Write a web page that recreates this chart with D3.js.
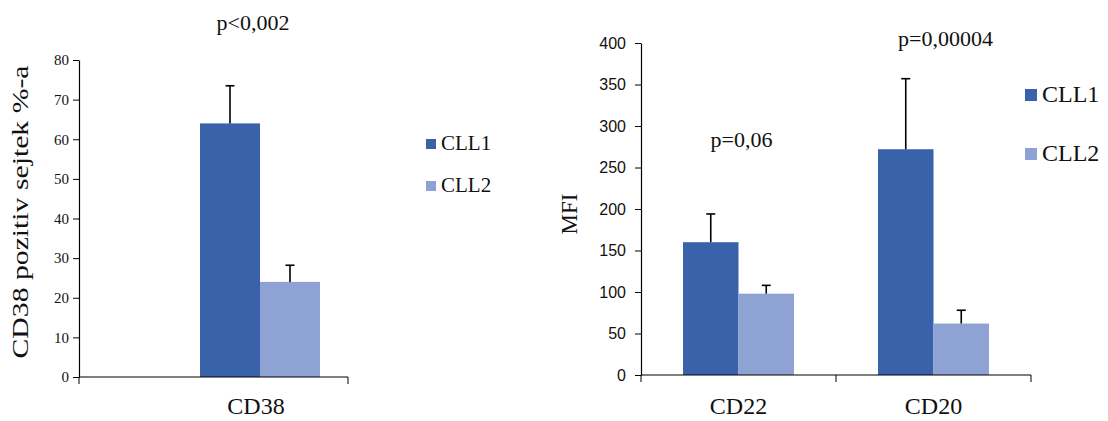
<!DOCTYPE html>
<html lang="hu">
<head>
<meta charset="UTF-8">
<title>CD38 / CD22 / CD20</title>
<script src="https://d3js.org/d3.v7.min.js"></script>
<style>
  body { margin: 0; background: #fff; }
  svg text { font-family: "Liberation Serif", "Times New Roman", serif; fill: #111; }
</style>
</head>
<body>
<svg id="chart" width="1108" height="421"></svg>
<script>
// Data
const series = ["CLL1", "CLL2"];
const colors = ["#3a62ab", "#8ea3d3"];

const leftCategories = ["CD38"];
const leftMeans = [[64], [24]];      // [series][category]
const leftErrors = [[9.5], [4.2]];
const leftTicks = [0, 10, 20, 30, 40, 50, 60, 70, 80];
const leftPvalues = ["p<0,002"];

const rightCategories = ["CD22", "CD20"];
const rightMeans = [[160, 272], [98, 62]];
const rightErrors = [[34, 85], [10, 16]];
const rightTicks = [0, 50, 100, 150, 200, 250, 300, 350, 400];
const rightPvalues = ["p=0,06", "p=0,00004"];

const svg = d3.select("#chart");

function drawPanel(o) {
  const g = svg.append("g");
  // band scale may run past the drawn axis line (left panel: bars sit right of centre)
  const x = d3.scaleBand().domain(o.categories).range([o.x0, o.bandEnd || o.x1]);
  const y = d3.scaleLinear().domain([0, o.max]).range([o.y0, o.y1]);

  // bars
  o.categories.forEach((cat, ci) => {
    const c = x(cat) + x.bandwidth() / 2;
    const xs = d3.scaleBand().domain(series).range([c - o.group / 2, c + o.group / 2]);
    series.forEach((s, si) => {
      const v = o.means[si][ci], e = o.errors[si][ci];
      const bx = xs(s), bw = xs.bandwidth();
      g.append("rect")
        .attr("x", bx).attr("y", y(v))
        .attr("width", bw).attr("height", y(0) - y(v))
        .attr("fill", colors[si]);
      const mx = bx + bw / 2;
      g.append("line")
        .attr("x1", mx).attr("x2", mx)
        .attr("y1", y(v)).attr("y2", y(v + e))
        .attr("stroke", "#000").attr("stroke-width", 1.6);
      g.append("line")
        .attr("x1", mx - 4.5).attr("x2", mx + 4.5)
        .attr("y1", y(v + e)).attr("y2", y(v + e))
        .attr("stroke", "#000").attr("stroke-width", 1.6);
    });
  });

  // y axis
  g.append("g")
    .attr("transform", `translate(${o.x0},0)`)
    .call(d3.axisLeft(y).tickValues(o.ticks).tickSize(6).tickSizeOuter(0))
    .call(a => a.select(".domain").attr("stroke", "#000").attr("stroke-width", 1.2))
    .call(a => a.selectAll(".tick line").attr("stroke", "#000"))
    .call(a => a.selectAll(".tick text")
      .attr("x", o.tickGap)
      .style("font-family", o.tickFont)
      .style("font-size", o.tickSize + "px")
      .attr("fill", "#222"));

  // x axis (line + boundary ticks pointing down)
  g.append("line")
    .attr("x1", o.x0).attr("x2", o.x1)
    .attr("y1", y(0)).attr("y2", y(0))
    .attr("stroke", "#000").attr("stroke-width", 1.2);
  const bounds = o.categories.map(c => x(c)).concat([o.x1]);
  g.selectAll(".xb").data(bounds).join("line")
    .attr("x1", d => d).attr("x2", d => d)
    .attr("y1", y(0)).attr("y2", y(0) + 7)
    .attr("stroke", "#000");
  g.selectAll(".xl").data(o.categories).join("text")
    .attr("x", d => x(d) + x.bandwidth() / 2 + o.catDx)
    .attr("y", o.catY)
    .attr("text-anchor", "middle")
    .style("font-size", "24px")
    .text(d => d);

  // p-values
  g.selectAll(".pv").data(o.pvalues).join("text")
    .attr("x", (d, i) => x(o.categories[i]) + x.bandwidth() / 2 + o.pDx[i])
    .attr("y", (d, i) => o.pY[i])
    .attr("text-anchor", "middle")
    .style("font-size", "22px")
    .text(d => d);

  // y title
  const t = g.append("text")
    .attr("transform", `translate(${o.titleX},${o.titleY}) rotate(-90)`)
    .attr("text-anchor", "middle")
    .style("font-size", o.titleSize + "px")
    .text(o.title);
  if (o.titleLen) t.attr("textLength", o.titleLen).attr("lengthAdjust", "spacingAndGlyphs");

  // legend
  series.forEach((s, si) => {
    g.append("rect")
      .attr("x", o.legX).attr("y", o.legY[si] - o.legSq - 1)
      .attr("width", o.legSq).attr("height", o.legSq)
      .attr("fill", colors[si]);
    g.append("text")
      .attr("x", o.legX + o.legSq + 5).attr("y", o.legY[si])
      .style("font-size", o.legSize + "px")
      .text(s);
  });
}

drawPanel({
  categories: leftCategories, means: leftMeans, errors: leftErrors,
  ticks: leftTicks, pvalues: leftPvalues, max: 80,
  x0: 79, x1: 348, bandEnd: 441, y0: 377, y1: 60, group: 120,
  tickFont: '"Liberation Serif", serif', tickSize: 15, tickGap: -10,
  catY: 414, catDx: -4, pY: [30], pDx: [-7],
  title: "CD38 pozitiv sejtek %-a", titleX: 28, titleY: 212, titleSize: 23, titleLen: 293,
  legX: 426, legY: [150, 192], legSq: 10, legSize: 21
});

drawPanel({
  categories: rightCategories, means: rightMeans, errors: rightErrors,
  ticks: rightTicks, pvalues: rightPvalues, max: 400,
  x0: 641, x1: 1031, y0: 375, y1: 43, group: 111,
  tickFont: "Arial, 'Liberation Sans', sans-serif", tickSize: 16, tickGap: -15,
  catY: 414, catDx: 0, pY: [147, 46], pDx: [3, 12],
  title: "MFI", titleX: 577, titleY: 214, titleSize: 23,
  legX: 1025, legY: [102, 161], legSq: 12, legSize: 24
});
</script>
</body>
</html>
